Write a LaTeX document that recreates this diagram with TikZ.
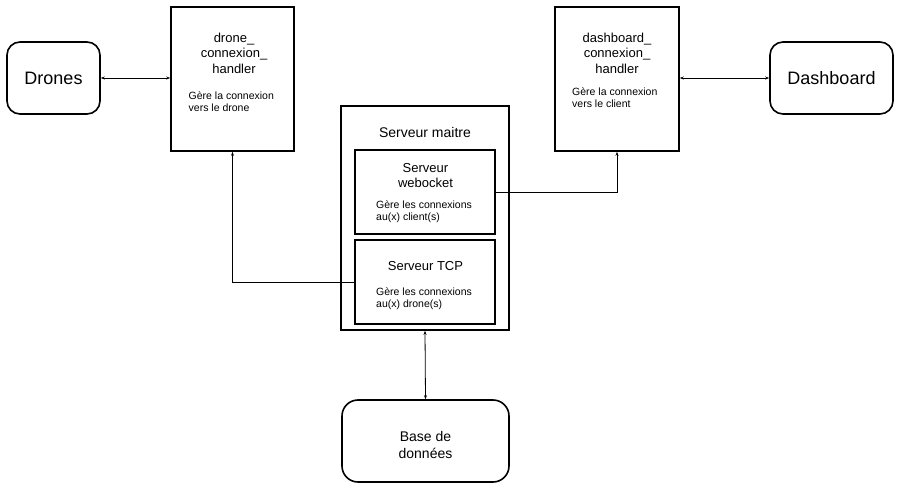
\documentclass[tikz,border=0pt]{standalone}
\usepackage{fontspec}
\setmainfont{Liberation Sans}
\usetikzlibrary{arrows.meta}
\begin{document}
\begin{tikzpicture}[x=1pt,y=-1pt,
  box/.style={draw,line width=1.6pt,inner sep=0pt},
  rbox/.style={box,rounded corners=13pt},
  conn/.style={line width=0.8pt,arrows={-Stealth[length=4pt,width=3pt]}},
  dconn/.style={line width=0.8pt,arrows={Stealth[length=4pt,width=3pt]-Stealth[length=4pt,width=3pt]}},
  title/.style={align=center,inner sep=0pt,font=\fontsize{13}{15.5}\selectfont},
  desc/.style={align=left,anchor=west,inner sep=0pt,font=\fontsize{10.5}{12}\selectfont}]
\useasboundingbox (0,0) rectangle (900,495);
% boxes
\node[rbox,minimum width=93pt,minimum height=72pt,font=\fontsize{18}{20}\selectfont] (drones) at (53.5,78) {Drones};
\node[box,minimum width=123pt,minimum height=144pt] (dh) at (232.5,79) {};
\node[box,minimum width=124pt,minimum height=144pt] (dbh) at (617,79) {};
\node[rbox,minimum width=123pt,minimum height=72pt,font=\fontsize{18}{20}\selectfont] (dash) at (831.5,78) {Dashboard};
\node[box,minimum width=168pt,minimum height=224pt] (sm) at (425,218) {};
\node[box,minimum width=140pt,minimum height=84pt] (ws) at (425,192) {};
\node[box,minimum width=140pt,minimum height=84pt] (tcp) at (425,282) {};
\node[rbox,rounded corners=16pt,minimum width=167pt,minimum height=82pt] (db) at (425.5,441) {};
% texts
\node[title,font=\fontsize{14}{16.5}\selectfont] (dbt) at (425.5,445) {Base de\\données};
\node[title] (dht) at (234,53) {drone\_\\connexion\_\\handler};
\node[desc] (dhd) at (188.5,102) {Gère la connexion\\vers le drone};
\node[title] (dbht) at (617,53) {dashboard\_\\connexion\_\\handler};
\node[desc] (dbhd) at (572,98) {Gère la connexion\\vers le client};
\node[title,font=\fontsize{14}{16}\selectfont] (smt) at (425,132) {Serveur maitre};
\node[title] (wst) at (425.5,175.5) {Serveur\\webocket};
\node[desc] (wsd) at (376,212) {Gère les connexions\\au(x) client(s)};
\node[title] (tcpt) at (425.5,266) {Serveur TCP};
\node[desc] (tcpd) at (376,298.5) {Gère les connexions\\au(x) drone(s)};
% connectors
\draw[dconn] (drones.east) -- (drones.east -| dh.west);
\draw[dconn] (dbh.east |- dash.west) -- (dash.west);
\draw[conn] (tcp.west) -| (dh.south);
\draw[conn] (ws.east) -| (dbh.south);
\draw[dconn] (sm.south) -- (db.north);
\end{tikzpicture}
\end{document}
